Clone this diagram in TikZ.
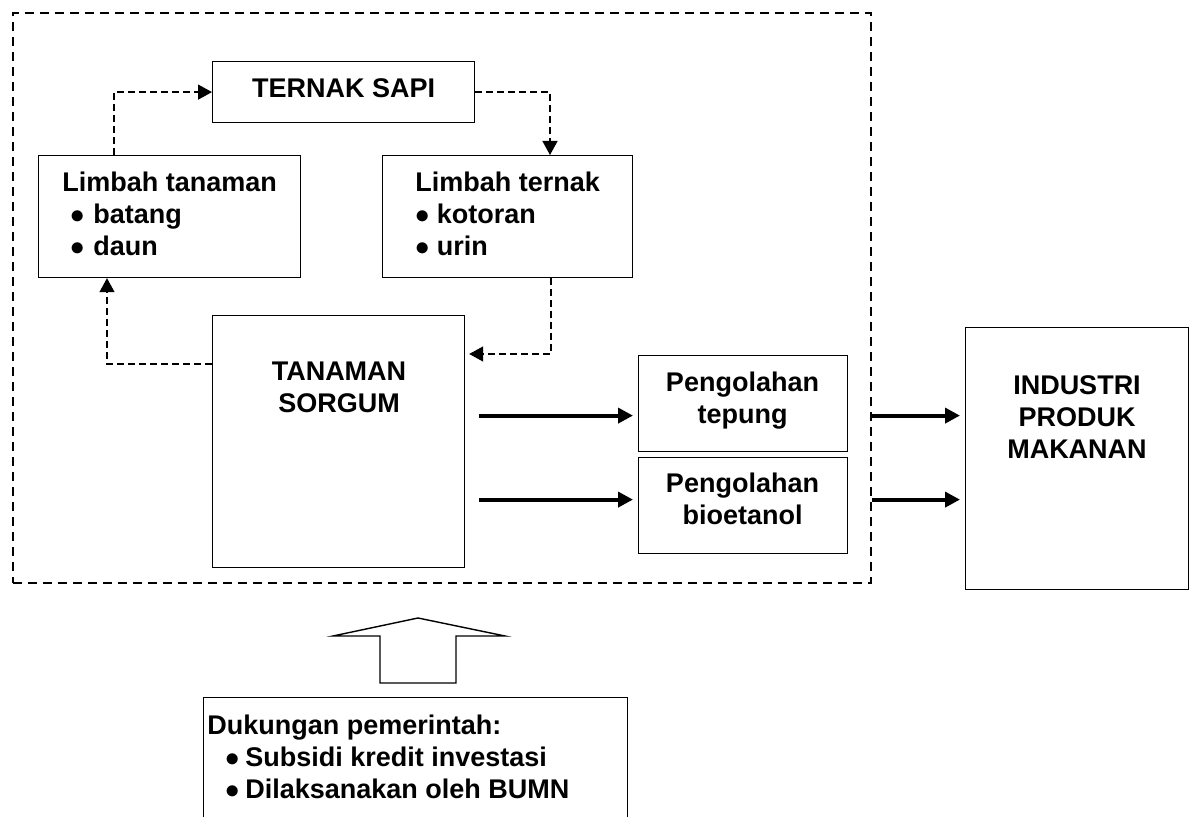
\documentclass[tikz,border=0pt]{standalone}
\usepackage{fontspec}
\setmainfont{Liberation Sans}
\usetikzlibrary{arrows.meta}
\tikzstyle{box}=[draw, line width=0.6pt, inner sep=0pt, anchor=north west]
\tikzstyle{txt}=[inner sep=0pt, align=left, anchor=north west]
\tikzstyle{flow}=[line width=0.7pt, dash pattern=on 3.5pt off 2pt, -{Triangle[length=7pt,width=7.5pt]}]
\tikzstyle{mainflow}=[line width=2pt, -{Triangle[length=7.5pt,width=7.5pt]}]
\newcommand{\itembul}[1][11pt]{\makebox[#1][l]{$\bullet$}}

\begin{document}
\begin{tikzpicture}[x=0.5pt, y=-0.5pt, font=\fontsize{13.5}{16}\selectfont\bfseries]
  \useasboundingbox (0,0) rectangle (1190,817);
  \clip (0,0) rectangle (1190,817);
  % kawasan usaha (dashed)
  \node[box, dash pattern=on 4.5pt off 3pt, line width=1pt,
        minimum width=429pt, minimum height=285pt] (frame) at (12,12) {};
  % boxes
  \node[box, minimum width=131pt, minimum height=30.5pt, text depth=4pt] (sapi) at (212,61) {TERNAK SAPI};
  \node[box, minimum width=131pt, minimum height=61pt] (ltan) at (38,155) {};
  \node[box, minimum width=125pt, minimum height=61pt] (lter) at (382,155) {};
  \node[box, minimum width=126pt, minimum height=126pt] (sorgum) at (212,315) {};
  \node[box, minimum width=104.5pt, minimum height=48pt] (tepung) at (638,355) {};
  \node[box, minimum width=104.5pt, minimum height=48pt] (etanol) at (638,457) {};
  \node[box, minimum width=111.5pt, minimum height=131pt] (industri) at (965,327) {};
  \node[box, minimum width=212pt, minimum height=70pt] (dukungan) at (203,697) {};
  % texts
  \node[txt] (ltan-t) at (62,172)
    {Limbah tanaman\\\hspace*{4.25pt}\itembul[11.25pt]batang\\\hspace*{4.25pt}\itembul[11.25pt]daun};
  \node[txt] (lter-t) at (415,172)
    {Limbah ternak\\\itembul[10.75pt]kotoran\\\itembul[10.75pt]urin};
  \node[txt, anchor=north, align=center] (sorgum-t) at (339,362) {TANAMAN\\SORGUM};
  \node[txt, anchor=north, align=center] (tepung-t) at (742.5,372) {Pengolahan\\tepung};
  \node[txt, anchor=north, align=center] (etanol-t) at (742.5,473) {Pengolahan\\bioetanol};
  \node[txt, anchor=north, align=center] (industri-t) at (1077,375) {INDUSTRI\\PRODUK\\MAKANAN};
  \node[txt] (dukungan-t) at (207,715)
    {Dukungan pemerintah:\\\hspace*{9.25pt}\itembul[9.75pt]Subsidi kredit investasi\\\hspace*{9.25pt}\itembul[9.75pt]Dilaksanakan oleh BUMN};
  % siklus limbah
  \draw[flow] ([xshift=38pt]ltan.north west) |- (sapi.west);
  \draw[flow] (sapi.east) -| ([xshift=84pt]lter.north west);
  \draw[flow] ([xshift=84.5pt]lter.south west) |- ([xshift=2pt,yshift=-19.5pt]sorgum.north east);
  \draw[flow] ([yshift=-24.5pt]sorgum.north west) -| ([xshift=34.5pt]ltan.south west);
  % hasil olahan
  \coordinate (up) at ([yshift=-6pt]tepung.west);
  \coordinate (down) at ([yshift=3pt]etanol.west);
  \draw[mainflow] ([xshift=7pt]sorgum.east |- up) -- ([xshift=-2.5pt]up);
  \draw[mainflow] ([xshift=7pt]sorgum.east |- down) -- ([xshift=-2.5pt]down);
  \draw[mainflow] (frame.east |- up) -- ([xshift=-2.5pt]industri.west |- up);
  \draw[mainflow] (frame.east |- down) -- ([xshift=-2.5pt]industri.west |- down);
  % block arrow
  \draw[line width=0.7pt] (380,683) -- (380,636) -- (333,636) -- (418,618)
    -- (505,636) -- (456,636) -- (456,683) -- cycle;
\end{tikzpicture}
\end{document}
